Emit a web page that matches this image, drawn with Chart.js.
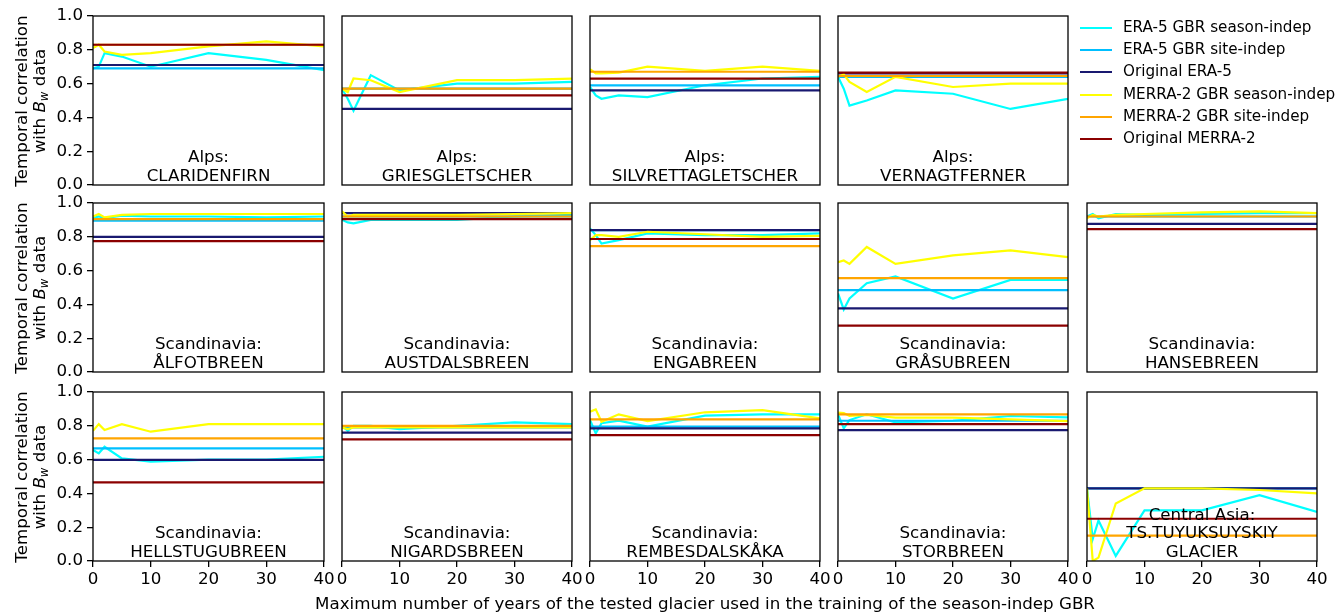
<!DOCTYPE html>
<html>
<head>
<meta charset="utf-8">
<script src="https://cdn.jsdelivr.net/npm/chart.js@4.4.1/dist/chart.umd.min.js"></script>
<style>
body{margin:0;background:#fff;width:1339px;height:612px;overflow:hidden;position:relative;font-family:"DejaVu Sans",sans-serif;font-size:16.7px;color:#000}
canvas{position:absolute}
.ytitle{position:absolute;white-space:nowrap;transform:translate(-50%,-50%) rotate(-90deg);line-height:1}
.xtitle{position:absolute;white-space:nowrap;transform:translate(-50%,-50%);left:705px;top:603px;line-height:1}
.leg{position:absolute;left:1080px;white-space:nowrap;line-height:1;font-size:15.2px}
.leg span.ln{position:absolute;left:0;width:32px;height:2px;top:-1px}
.leg span.tx{position:absolute;left:43px;top:-8px}
</style>
</head>
<body>
<script>
// x positions (max years of the tested glacier in training)
const years = [0, 1, 2, 5, 10, 20, 30, 40];

const regions = ['Alps', 'Alps', 'Alps', 'Alps',
  'Scandinavia', 'Scandinavia', 'Scandinavia', 'Scandinavia', 'Scandinavia',
  'Scandinavia', 'Scandinavia', 'Scandinavia', 'Scandinavia', 'Central Asia'];
const glaciers = ['CLARIDENFIRN', 'GRIESGLETSCHER', 'SILVRETTAGLETSCHER', 'VERNAGTFERNER',
  'ÅLFOTBREEN', 'AUSTDALSBREEN', 'ENGABREEN', 'GRÅSUBREEN', 'HANSEBREEN',
  'HELLSTUGUBREEN', 'NIGARDSBREEN', 'REMBESDALSKÅKA', 'STORBREEN', 'TS.TUYUKSUYSKIY\nGLACIER'];

// ERA-5 GBR season-indep, one row per glacier
const era5Season = [
  [0.69, 0.70, 0.78, 0.76, 0.70, 0.78, 0.74, 0.68],
  [0.57, 0.51, 0.44, 0.65, 0.56, 0.60, 0.60, 0.61],
  [0.58, 0.53, 0.51, 0.53, 0.52, 0.59, 0.63, 0.64],
  [0.64, 0.57, 0.47, 0.50, 0.56, 0.54, 0.45, 0.51],
  [0.91, 0.92, 0.91, 0.925, 0.92, 0.92, 0.915, 0.92],
  [0.90, 0.885, 0.88, 0.90, 0.90, 0.90, 0.92, 0.93],
  [0.85, 0.81, 0.76, 0.78, 0.82, 0.81, 0.81, 0.82],
  [0.465, 0.37, 0.435, 0.525, 0.565, 0.435, 0.545, 0.545],
  [0.92, 0.935, 0.91, 0.935, 0.93, 0.935, 0.94, 0.94],
  [0.657, 0.637, 0.676, 0.607, 0.588, 0.60, 0.60, 0.617],
  [0.80, 0.77, 0.80, 0.80, 0.78, 0.80, 0.82, 0.81],
  [0.834, 0.755, 0.815, 0.83, 0.795, 0.86, 0.868, 0.868],
  [0.868, 0.785, 0.834, 0.868, 0.82, 0.83, 0.858, 0.85],
  [0.43, 0.13, 0.24, 0.03, 0.30, 0.30, 0.39, 0.29]
];

// MERRA-2 GBR season-indep
const merraSeason = [
  [0.81, 0.83, 0.79, 0.77, 0.78, 0.82, 0.85, 0.82],
  [0.57, 0.55, 0.63, 0.62, 0.55, 0.62, 0.62, 0.63],
  [0.685, 0.66, 0.66, 0.665, 0.70, 0.675, 0.70, 0.675],
  [0.64, 0.655, 0.61, 0.55, 0.64, 0.58, 0.60, 0.60],
  [0.92, 0.935, 0.915, 0.93, 0.935, 0.935, 0.935, 0.935],
  [0.95, 0.92, 0.93, 0.93, 0.93, 0.93, 0.935, 0.94],
  [0.78, 0.81, 0.81, 0.80, 0.83, 0.815, 0.80, 0.805],
  [0.65, 0.66, 0.64, 0.74, 0.64, 0.69, 0.72, 0.68],
  [0.91, 0.93, 0.92, 0.93, 0.935, 0.945, 0.95, 0.94],
  [0.77, 0.81, 0.775, 0.81, 0.765, 0.81, 0.81, 0.81],
  [0.79, 0.78, 0.79, 0.79, 0.79, 0.79, 0.79, 0.79],
  [0.884, 0.897, 0.824, 0.868, 0.828, 0.88, 0.893, 0.844],
  [0.878, 0.875, 0.858, 0.864, 0.848, 0.848, 0.838, 0.828],
  [0.43, 0.0, 0.02, 0.34, 0.43, 0.43, 0.42, 0.40]
];

// constant references (one value per glacier)
const era5Site  = [0.69, 0.57, 0.59, 0.64, 0.895, 0.92, 0.84, 0.485, 0.92, 0.667, 0.79, 0.795, 0.83, 0.43];
const era5Orig  = [0.71, 0.45, 0.56, 0.66, 0.80, 0.94, 0.84, 0.377, 0.876, 0.598, 0.76, 0.785, 0.775, 0.43];
const merraSite = [0.83, 0.57, 0.67, 0.645, 0.905, 0.92, 0.745, 0.555, 0.92, 0.726, 0.80, 0.838, 0.868, 0.15];
const merraOrig = [0.83, 0.53, 0.63, 0.665, 0.775, 0.905, 0.787, 0.274, 0.846, 0.465, 0.72, 0.745, 0.81, 0.25];

const seriesNames = ['ERA-5 GBR season-indep', 'ERA-5 GBR site-indep', 'Original ERA-5',
  'MERRA-2 GBR season-indep', 'MERRA-2 GBR site-indep', 'Original MERRA-2'];
const seriesColors = ['#00ffff', '#00bfff', '#191970', '#ffff00', '#ffa500', '#8b0000'];

const xTicks = [0, 10, 20, 30, 40];
const yTicks = [0, 0.2, 0.4, 0.6, 0.8, 1.0];

// grid geometry
const slots = [0, 1, 2, 3, 5, 6, 7, 8, 9, 10, 11, 12, 13, 14];
const colLeft = [93, 342, 590, 838, 1087];
const colWidth = [231, 230, 230, 230, 230];
const rowTop = [16, 203, 392];
const panelH = 169;

Chart.defaults.font.family = '"DejaVu Sans", sans-serif';
Chart.defaults.font.size = 16.7;
Chart.defaults.color = '#000';

const framePlugin = {
  id: 'frame',
  afterDatasetsDraw(chart, args, opts) {
    const a = chart.chartArea, ctx = chart.ctx;
    ctx.save();
    // panel title
    ctx.fillStyle = '#000';
    ctx.font = '16.7px "DejaVu Sans"';
    ctx.textAlign = 'center';
    ctx.textBaseline = 'middle';
    const lines = [opts.region + ':'].concat(opts.name.split('\n'));
    const cx = (a.left + a.right) / 2;
    lines.forEach((t, i) => {
      ctx.fillText(t, cx, a.bottom - 8.5 - (lines.length - 1 - i) * 18.5);
    });
    ctx.strokeStyle = '#000';
    ctx.lineWidth = 1.3;
    ctx.strokeRect(a.left, a.top, a.right - a.left, a.bottom - a.top);
    ctx.restore();
  }
};

glaciers.forEach((name, g) => {
  const row = Math.floor(slots[g] / 5), col = slots[g] % 5;
  const ML = col === 0 ? 93 : 20;
  const MB = row === 2 ? 32 : 10;
  const PT = 10, PR = 20;
  const W = ML + colWidth[col] + PR, H = PT + panelH + MB;
  const cv = document.createElement('canvas');
  cv.width = W; cv.height = H;
  cv.style.left = (colLeft[col] - ML) + 'px';
  cv.style.top = (rowTop[row] - PT) + 'px';
  cv.style.width = W + 'px'; cv.style.height = H + 'px';
  document.body.appendChild(cv);

  const hline = v => [{x: 0, y: v}, {x: 40, y: v}];
  const series = [
    years.map((x, i) => ({x, y: era5Season[g][i]})),
    hline(era5Site[g]),
    hline(era5Orig[g]),
    years.map((x, i) => ({x, y: merraSeason[g][i]})),
    hline(merraSite[g]),
    hline(merraOrig[g])
  ];

  new Chart(cv, {
    type: 'line',
    data: {
      datasets: series.map((d, i) => ({
        label: seriesNames[i],
        data: d,
        borderColor: seriesColors[i],
        borderWidth: 2.2,
        pointRadius: 0,
        tension: 0,
        fill: false,
        order: -i
      }))
    },
    options: {
      responsive: false,
      animation: false,
      devicePixelRatio: 1,
      layout: {padding: {top: PT, right: PR, left: 0, bottom: 0}},
      plugins: {
        legend: {display: false},
        tooltip: {enabled: false},
        frame: {region: regions[g], name: name}
      },
      scales: {
        x: {
          type: 'linear', min: 0, max: 40,
          afterBuildTicks: s => { s.ticks = xTicks.map(v => ({value: v})); },
          border: {display: false},
          grid: {display: row === 2, drawOnChartArea: false, tickLength: 6, color: '#000', lineWidth: 1.3},
          ticks: {display: row === 2, padding: 3, maxRotation: 0},
          afterFit: s => { s.height = MB; s.paddingLeft = 0; s.paddingRight = 0; }
        },
        y: {
          type: 'linear', min: 0, max: 1,
          afterBuildTicks: s => { s.ticks = yTicks.map(v => ({value: v})); },
          border: {display: false},
          grid: {display: col === 0, drawOnChartArea: false, tickLength: 6, color: '#000', lineWidth: 1.3},
          ticks: {display: col === 0, padding: 4, callback: v => v.toFixed(1)},
          afterFit: s => { s.width = ML; s.paddingTop = 0; s.paddingBottom = 0; }
        }
      }
    },
    plugins: [framePlugin]
  });
});

// y-axis titles for each row
rowTop.forEach(t => {
  const c = t + panelH / 2;
  const a = document.createElement('div');
  a.className = 'ytitle'; a.style.left = '21px'; a.style.top = c + 'px';
  a.textContent = 'Temporal correlation';
  document.body.appendChild(a);
  const b = document.createElement('div');
  b.className = 'ytitle'; b.style.left = '41px'; b.style.top = c + 'px';
  b.innerHTML = 'with <i>B</i><sub style="font-size:70%;vertical-align:-3px"><i>w</i></sub> data';
  document.body.appendChild(b);
});

// legend
seriesNames.forEach((n, i) => {
  const d = document.createElement('div');
  d.className = 'leg';
  d.style.top = (28 + i * 22.2) + 'px';
  d.innerHTML = '<span class="ln" style="background:' + seriesColors[i] + '"></span><span class="tx">' + n + '</span>';
  document.body.appendChild(d);
});

const xl = document.createElement('div');
xl.className = 'xtitle';
xl.textContent = 'Maximum number of years of the tested glacier used in the training of the season-indep GBR';
document.body.appendChild(xl);
</script>
</body>
</html>
